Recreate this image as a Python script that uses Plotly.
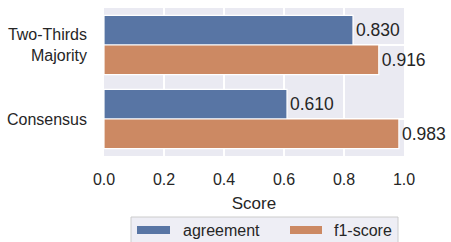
import plotly.graph_objects as go

categories = ["Two-Thirds<br>Majority", "Consensus"]
series_names = ["agreement", "f1-score"]
agreement = [0.830, 0.610]
f1_score = [0.916, 0.983]
x_ticks = [0.0, 0.2, 0.4, 0.6, 0.8, 1.0]

colors = ["#5875A4", "#CC8963"]
FONT = "Liberation Sans, Arial, sans-serif"
TXT = "#262626"

fig = go.Figure()
for name, vals, c in zip(series_names, [agreement, f1_score], colors):
    fig.add_trace(go.Bar(
        y=categories, x=vals, name=name, orientation="h",
        marker=dict(color=c, line=dict(color="white", width=1.2)),
        text=[f"{v:.3f}" for v in vals], textposition="outside",
        constraintext="none",
        textfont=dict(size=17.5, color=TXT, family=FONT),
        outsidetextfont=dict(size=17.5, color=TXT, family=FONT),
        cliponaxis=False, showlegend=False,
    ))

W, H = 451, 242
# plot area in page pixels: x 104..404, y 8..156
L, R, T, B = 104, 451 - 404, 8, 242 - 156
ph = H - T - B
pw = W - L - R

def px(x):
    return (x - L) / pw

def py(y):
    return (H - B - y) / ph

shapes = [
    dict(type="rect", xref="paper", yref="paper", x0=px(131), x1=px(398),
         y0=py(262), y1=py(217), line=dict(color="#CCCCCC", width=1),
         fillcolor="rgba(234,234,242,0.8)", layer="above"),
    dict(type="rect", xref="paper", yref="paper", x0=px(137), x1=px(170),
         y0=py(234), y1=py(226), line=dict(width=0), fillcolor=colors[0]),
    dict(type="rect", xref="paper", yref="paper", x0=px(290), x1=px(322),
         y0=py(234), y1=py(226), line=dict(width=0), fillcolor=colors[1]),
]
annotations = [
    dict(text=series_names[0], xref="paper", yref="paper", x=px(181), y=py(230),
         xanchor="left", yanchor="middle", showarrow=False,
         font=dict(size=16, color=TXT, family=FONT)),
    dict(text=series_names[1], xref="paper", yref="paper", x=px(332), y=py(230),
         xanchor="left", yanchor="middle", showarrow=False,
         font=dict(size=16, color=TXT, family=FONT)),
]

fig.update_layout(
    width=W, height=H,
    margin=dict(l=L, r=R, t=T, b=B, pad=0),
    paper_bgcolor="white", plot_bgcolor="#EAEAF2",
    barmode="group", bargap=0.2, bargroupgap=0,
    font=dict(family=FONT, size=16, color=TXT),
    shapes=shapes, annotations=annotations,
    showlegend=False,
    xaxis=dict(range=[0, 1.0], tickvals=x_ticks, ticktext=[f"{t:.1f}" for t in x_ticks],
               showgrid=True, gridcolor="white", gridwidth=1.5, zeroline=False,
               showline=False, ticks="", ticklabelstandoff=12,
               title=dict(text="Score", font=dict(size=17), standoff=10),
               tickfont=dict(size=16)),
    yaxis=dict(categoryorder="array", categoryarray=categories, autorange="reversed",
               showgrid=True, gridcolor="white", gridwidth=1.5, zeroline=False,
               showline=False, ticks="", ticklabelstandoff=16,
               tickfont=dict(size=16)),
)

fig.write_html(
    "out.html",
    config={"displayModeBar": False},
    post_script="document.body.style.margin='0';document.body.style.overflow='hidden';",
)
